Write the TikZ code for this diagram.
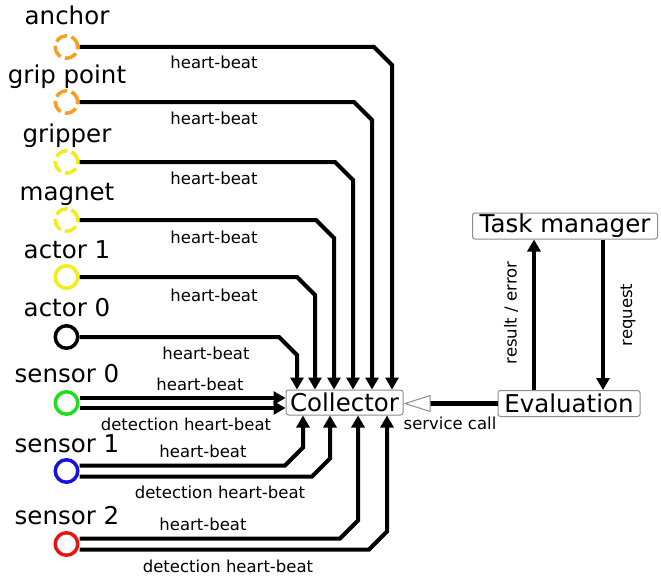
\documentclass[tikz,border=0pt]{standalone}
\usepackage{fontspec}
\setmainfont{DejaVu Sans}
\usetikzlibrary{arrows.meta,calc}

\definecolor{portorange}{RGB}{245,160,30}
\definecolor{portyellow}{RGB}{242,236,24}
\definecolor{portgreen}{RGB}{30,222,30}
\definecolor{portblue}{RGB}{20,20,220}
\definecolor{portred}{RGB}{232,20,20}
\definecolor{boxedge}{RGB}{140,140,140}

\begin{document}
\begin{tikzpicture}[x=1pt,y=-1pt,
  port/.style={circle, minimum size=22.5pt, inner sep=0pt, line width=3.5pt, fill=white},
  dport/.style={port, dash pattern=on 12.5pt off 4.5pt},
  portname/.style={font=\fontsize{24.5}{27}\selectfont, inner sep=0pt, anchor=base},
  beat/.style={font=\fontsize{16.5}{19}\selectfont, inner sep=0pt, anchor=base},
  wire/.style={line width=4pt, -{Triangle[length=12pt,width=13pt]}},
  procbox/.style={draw=boxedge, line width=1pt, rounded corners=2.5pt, fill=white,
    font=\fontsize{24.5}{27}\selectfont, inner sep=0pt},
  svc/.style={line width=5.5pt,
    -{Triangle[length=27pt,width=17pt,line width=1pt,color=boxedge,fill=white]}}
]
\useasboundingbox (0,0) rectangle (661,578);

% ports on the left
\node[dport, draw=portorange] (an) at (66.5,47)  {};
\node[dport, draw=portorange] (gp) at (66.5,102) {};
\node[dport, draw=portyellow] (gr) at (66.5,162) {};
\node[dport, draw=portyellow] (mg) at (66.5,220) {};
\node[port,  draw=portyellow] (a1) at (66.5,277) {};
\node[port,  draw=black]      (a0) at (66.5,337) {};
\node[port,  draw=portgreen]  (s0) at (66.5,403) {};
\node[port,  draw=portblue]   (s1) at (66.5,471) {};
\node[port,  draw=portred]    (s2) at (66.5,544) {};

% port names
\node[portname] (anl) at (67,25)  {anchor};
\node[portname] (gpl) at (67,83)  {grip point};
\node[portname] (grl) at (67,142) {gripper};
\node[portname] (mgl) at (67,200) {magnet};
\node[portname] (a1l) at (67,258) {actor 1};
\node[portname] (a0l) at (67,316) {actor 0};
\node[portname] (s0l) at (67,382) {sensor 0};
\node[portname] (s1l) at (67,452) {sensor 1};
\node[portname] (s2l) at (67,524) {sensor 2};

% processing boxes
\node[procbox, minimum width=117pt, minimum height=25pt] (co) at (344.5,402.5) {Collector};
\node[procbox, minimum width=142pt, minimum height=26pt] (ev) at (569,403.5) {Evaluation};
\node[procbox, minimum width=185pt, minimum height=26pt] (tm) at (565,226) {Task manager};

% heart-beat wires entering the collector from above
\draw[wire] (an.east) -- (374,47)  -- (392,65)  -- (392,0 |- co.north);
\draw[wire] (gp.east) -- (354,102) -- (372,120) -- (372,0 |- co.north);
\draw[wire] (gr.east) -- (335,162) -- (353,180) -- (353,0 |- co.north);
\draw[wire] (mg.east) -- (316,220) -- (334,238) -- (334,0 |- co.north);
\draw[wire] (a1.east) -- (297,277) -- (315,295) -- (315,0 |- co.north);
\draw[wire] (a0.east) -- (279,337) -- (297,355) -- (297,0 |- co.north);

% sensor 0 enters from the left
\draw[wire] ([yshift=5pt]s0.east) -- ([yshift=5pt]s0.east -| co.west);
\draw[wire] ([yshift=-5pt]s0.east) -- ([yshift=-5pt]s0.east -| co.west);

% sensors 1 and 2 enter from below
\draw[wire] ([yshift=5.5pt]s1.east)  -- (285,465.5) -- (303,447.5) -- (303,0 |- co.south);
\draw[wire] ([yshift=-5.5pt]s1.east) -- (312,476.5) -- (330,458.5) -- (330,0 |- co.south);
\draw[wire] ([yshift=5.5pt]s2.east)  -- (340,538.5) -- (358,520.5) -- (358,0 |- co.south);
\draw[wire] ([yshift=-5.5pt]s2.east) -- (369,549.5) -- (387,531.5) -- (387,0 |- co.south);

% wire labels
\node[beat] (b1) at (214,68)  {heart-beat};
\node[beat] (b2) at (214,124) {heart-beat};
\node[beat] (b3) at (214,184) {heart-beat};
\node[beat] (b4) at (214,243) {heart-beat};
\node[beat] (b5) at (214,301) {heart-beat};
\node[beat] (b6) at (206,359) {heart-beat};
\node[beat] (b7) at (200,390) {heart-beat};
\node[beat] (b8) at (186,430) {detection heart-beat};
\node[beat] (b9) at (203,457) {heart-beat};
\node[beat] (b10) at (220,498) {detection heart-beat};
\node[beat] (b11) at (203,530) {heart-beat};
\node[beat] (b12) at (228,572) {detection heart-beat};

% evaluation side
\draw[svc] (ev.west) -- (ev.west -| co.east);
\node[beat] (sc) at (450,429) {service call};
\draw[wire] (534,0 |- ev.north) -- (534,0 |- tm.south);
\draw[wire] (603,0 |- tm.south) -- (603,0 |- ev.north);
\node[beat, anchor=center, rotate=90] (re) at (511,313) {result / error};
\node[beat, anchor=center, rotate=90] (rq) at (628,315) {request};
\end{tikzpicture}
\end{document}
